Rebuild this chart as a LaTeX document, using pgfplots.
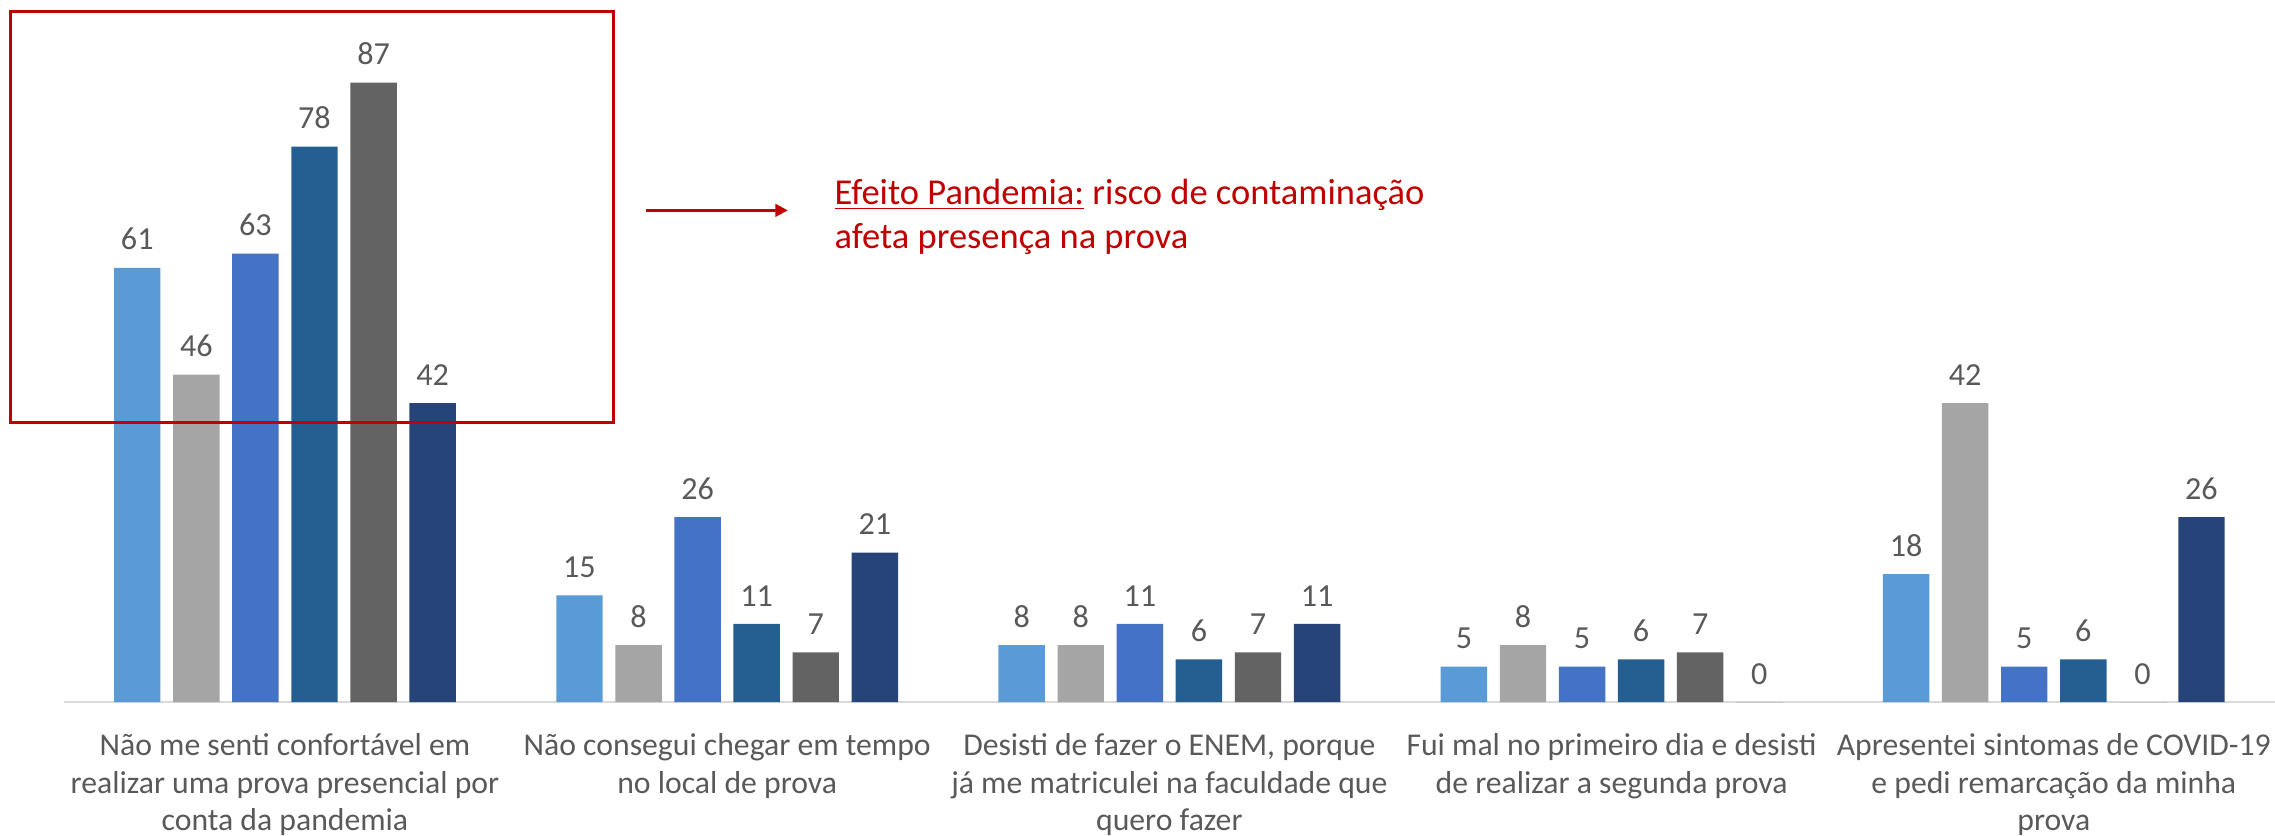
\documentclass[border=0pt]{standalone}
\usepackage{pgfplots}
\pgfplotsset{compat=1.18}
\usetikzlibrary{arrows.meta}
\usepackage{fontspec}
\setmainfont{Carlito}
\definecolor{c1}{HTML}{5B9BD5}
\definecolor{c2}{HTML}{A5A5A5}
\definecolor{c3}{HTML}{4472C4}
\definecolor{c4}{HTML}{255E91}
\definecolor{c5}{HTML}{636363}
\definecolor{c6}{HTML}{264478}
\definecolor{txt}{HTML}{595959}
\definecolor{axgray}{HTML}{D9D9D9}
\definecolor{dred}{HTML}{C00000}
\begin{document}
\begin{tikzpicture}
\begin{axis}[name=ax, at={(0,0)}, anchor=south west,
  scale only axis, width=1066.8pt, height=338.8pt,
  xmin=-0.5, xmax=4.5, ymin=0, ymax=98.6,
  hide y axis, axis x line*=bottom,
  x axis line style={draw=axgray, line width=1.2pt, -},
  xtick={0,1,2,3,4}, major tick length=0pt, xtick style={draw=none},
  xticklabels={{Não me senti confortável em\\realizar uma prova presencial por\\conta da pandemia},
    {Não consegui chegar em tempo\\no local de prova},
    {Desisti de fazer o ENEM, porque\\já me matriculei na faculdade que\\quero fazer},
    {Fui mal no primeiro dia e desisti\\de realizar a segunda prova},
    {Apresentei sintomas de COVID-19\\e pedi remarcação da minha\\prova}},
  xticklabel style={align=center, font=\fontsize{15.3}{18.2}\selectfont, text=txt, anchor=north, yshift=-11.5pt},
  ybar=6.1pt, bar width=22.4pt,
  nodes near coords,
  every node near coord/.append style={font=\fontsize{15.5}{18}\selectfont, text=txt, yshift=5pt},
  /pgf/number format/assume math mode=true,
  clip=false,
]
\addplot[fill=c1, draw=none] coordinates {(0,61)(1,15)(2,8)(3,5)(4,18)};
\addplot[fill=c2, draw=none] coordinates {(0,46)(1,8)(2,8)(3,8)(4,42)};
\addplot[fill=c3, draw=none] coordinates {(0,63)(1,26)(2,11)(3,5)(4,5)};
\addplot[fill=c4, draw=none] coordinates {(0,78)(1,11)(2,6)(3,6)(4,6)};
\addplot[fill=c5, draw=none] coordinates {(0,87)(1,7)(2,7)(3,7)(4,0)};
\addplot[fill=c6, draw=none] coordinates {(0,42)(1,21)(2,11)(3,0)(4,26)};
\end{axis}
\draw[dred, line width=1.3pt] (-25.9pt,135.1pt) rectangle (265.3pt,333.2pt);
\draw[dred, line width=1.3pt, -{Triangle[length=6pt,width=6pt]}] (280.7pt,237.3pt) -- (349.3pt,237.3pt);
\node[anchor=base west, inner sep=0pt, text=dred, font=\fontsize{17.6}{21}\selectfont] at (371.7pt,240pt) {\underline{Efeito Pandemia:} risco de contaminação};
\node[anchor=base west, inner sep=0pt, text=dred, font=\fontsize{17.6}{21}\selectfont] at (371.7pt,219pt) {afeta presença na prova};
\pgfresetboundingbox
\useasboundingbox (-30.8pt,-64.4pt) rectangle (1066.8pt,338.8pt);
\end{tikzpicture}
\end{document}
